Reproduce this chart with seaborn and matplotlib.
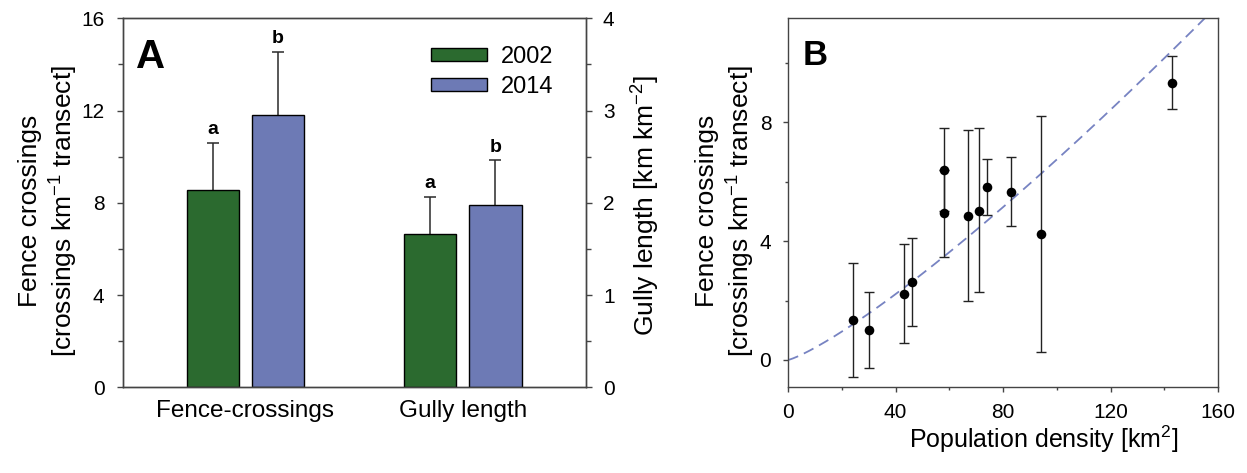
import numpy as np
import pandas as pd
import matplotlib
matplotlib.use("Agg")
import matplotlib.pyplot as plt
from matplotlib.ticker import MultipleLocator
import seaborn as sns

# ---------------- data ----------------
categories = ["Fence-crossings", "Gully length"]
years = ["2002", "2014"]
fence_mean = [8.54, 11.81]          # crossings km-1 transect (left axis)
fence_se = [2.04, 2.72]
gully_mean = [1.66, 1.98]           # km km-2 (right axis)
gully_se = [0.40, 0.48]
letters_fence = ["a", "b"]
letters_gully = ["a", "b"]
bar_colors = ["#2b6a2f", "#6d7ab5"]

pop_density = [24, 30, 43, 46, 58, 58, 67, 71, 74, 83, 94, 143]
crossings = [1.35, 1.01, 2.21, 2.63, 6.40, 4.94, 4.86, 5.03, 5.82, 5.67, 4.23, 9.33]
err_low = [-0.58, -0.28, 0.56, 1.13, 5.00, 3.48, 1.99, 2.28, 4.88, 4.50, 0.27, 8.45]
err_high = [3.25, 2.28, 3.90, 4.12, 7.80, 6.40, 7.74, 7.80, 6.77, 6.84, 8.20, 10.24]
fit_c = 0.02496                      # power-law fit y = c * x**p
fit_p = 1.216

# ---------------- style ----------------
sns.set_style("ticks")
plt.rcParams["font.family"] = ["Liberation Sans", "DejaVu Sans"]
plt.rcParams["mathtext.fontset"] = "custom"
plt.rcParams["mathtext.rm"] = "Liberation Sans"
plt.rcParams["mathtext.it"] = "Liberation Sans:italic"
plt.rcParams["mathtext.bf"] = "Liberation Sans:bold"
for k in ["text.color", "axes.labelcolor", "xtick.color", "ytick.color"]:
    plt.rcParams[k] = "black"
spine_col = "#444444"

fig = plt.figure(figsize=(12.47, 4.73), dpi=100)
axA = fig.add_axes([0.0987, 0.1812, 0.3711, 0.7801])
axB = fig.add_axes([0.6319, 0.1812, 0.3450, 0.7801])
axA2 = axA.twinx()

# ---------------- panel A ----------------
df_f = pd.DataFrame({"cat": [categories[0]] * 2, "year": years, "val": fence_mean})
df_g = pd.DataFrame({"cat": [categories[1]] * 2, "year": years, "val": gully_mean})

sns.barplot(data=df_f, x="cat", y="val", hue="year", order=categories, hue_order=years,
            palette=bar_colors, saturation=1, width=0.6, gap=0.2, errorbar=None,
            edgecolor="black", linewidth=1.0, legend=False, ax=axA, zorder=2)
sns.barplot(data=df_g, x="cat", y="val", hue="year", order=categories, hue_order=years,
            palette=bar_colors, saturation=1, width=0.6, gap=0.2, errorbar=None,
            edgecolor="black", linewidth=1.0, legend=False, ax=axA2, zorder=2)

def add_err(ax, means, ses, letters):
    for cont, m, s, let in zip(ax.containers, means, ses, letters):
        for p in cont.patches:
            x = p.get_x() + p.get_width() / 2
            ax.errorbar([x], [m], yerr=[[s], [s]], fmt="none", ecolor="#2a2a2a",
                        elinewidth=1.1, capsize=4.6, capthick=1.1, zorder=1)
            ax.annotate(let, (x, m + s), xytext=(0, 3.5), textcoords="offset points",
                        ha="center", va="bottom", fontsize=14, fontweight="bold")

add_err(axA, fence_mean, fence_se, letters_fence)
add_err(axA2, gully_mean, gully_se, letters_gully)

axA.set_xlim(-0.563, 1.566)
axA.set_ylim(0, 16)
axA2.set_ylim(0, 4)
axA.yaxis.set_major_locator(MultipleLocator(4))
axA.yaxis.set_minor_locator(MultipleLocator(2))
axA2.yaxis.set_major_locator(MultipleLocator(1))
axA2.yaxis.set_minor_locator(MultipleLocator(0.5))
axA.set_xlabel("")
axA2.set_xlabel("")
axA.set_ylabel("Fence crossings\n[crossings km$^{-1}$ transect]", fontsize=19, linespacing=1.25)
axA2.set_ylabel("Gully length [km km$^{-2}$]", fontsize=19)
axA.yaxis.set_label_coords(-0.093, 0.478)
axA2.yaxis.set_label_coords(1.095, 0.494)
axA.tick_params(axis="x", length=0, pad=9, labelsize=17.5)
axA.tick_params(axis="y", which="major", length=4.3, width=1, pad=9, labelsize=15, color=spine_col)
axA.tick_params(axis="y", which="minor", length=3.6, width=1, color=spine_col)
axA2.tick_params(axis="y", which="major", length=4.3, width=1, pad=8, labelsize=15, color=spine_col)
axA2.tick_params(axis="y", which="minor", length=3.6, width=1, color=spine_col)
for ax in (axA, axA2):
    for sp in ax.spines.values():
        sp.set_visible(True)
        sp.set_color(spine_col)
        sp.set_linewidth(1.0)

handles = list(axA.containers)
axA2.legend(handles=handles, labels=years, loc="upper left", bbox_to_anchor=(0.665, 0.925),
            borderaxespad=0, borderpad=0, frameon=False, fontsize=17, handlelength=2.37,
            handleheight=0.47, handletextpad=0.61, labelspacing=0.35)
axA.text(0.029, 0.8645, "A", transform=axA.transAxes, fontsize=29, fontweight="bold",
         ha="left", va="baseline")

# ---------------- panel B ----------------
xs = np.array(pop_density, dtype=float)
ys = np.array(crossings)
lo = ys - np.array(err_low)
hi = np.array(err_high) - ys
axB.errorbar(xs, ys, yerr=[lo, hi], fmt="none", ecolor="#222222", elinewidth=1.0,
             capsize=3.8, capthick=1.0, zorder=2)
grid = np.linspace(0, 160, 400)
fit = fit_c * grid ** fit_p
sns.lineplot(x=grid, y=fit, ax=axB, color="#7783c2", linewidth=1.3, zorder=1)
axB.lines[-1].set_dashes((6, 3.5))
sns.scatterplot(x=xs, y=ys, ax=axB, color="black", s=48, edgecolor="black", linewidth=0,
                zorder=3)

axB.set_xlim(0, 160)
axB.set_ylim(-0.92, 11.5)
axB.xaxis.set_major_locator(MultipleLocator(40))
axB.xaxis.set_minor_locator(MultipleLocator(20))
axB.yaxis.set_major_locator(MultipleLocator(4))
axB.yaxis.set_minor_locator(MultipleLocator(2))
axB.tick_params(axis="both", which="major", length=3.6, width=1, labelsize=15, color=spine_col)
axB.tick_params(axis="both", which="minor", length=2.2, width=1, color=spine_col)
axB.tick_params(axis="y", which="major", pad=8.4)
axB.tick_params(axis="x", which="major", pad=7.8)
axB.set_xlabel("Population density [km$^{2}$]", fontsize=18)
axB.set_ylabel("Fence crossings\n[crossings km$^{-1}$ transect]", fontsize=19, linespacing=1.25)
axB.xaxis.set_label_coords(0.595, -0.098)
axB.yaxis.set_label_coords(-0.072, 0.478)
for sp in axB.spines.values():
    sp.set_visible(True)
    sp.set_color(spine_col)
    sp.set_linewidth(1.0)
axB.text(0.034, 0.8734, "B", transform=axB.transAxes, fontsize=25, fontweight="bold",
         ha="left", va="baseline")

fig.savefig("out.png", dpi=100)
